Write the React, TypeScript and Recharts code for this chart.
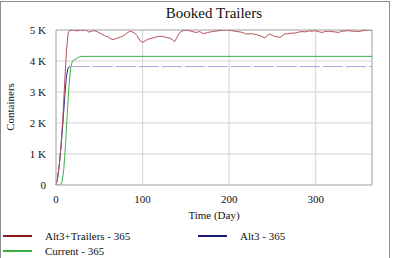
import { CartesianGrid, Line, LineChart, ReferenceLine, XAxis, YAxis } from "recharts";

const dayTicks = [0, 100, 200, 300];
const containerTicks = [0, 1000, 2000, 3000, 4000, 5000];

const alt3TrailersDays = [
  0, 2, 4, 6, 8, 10, 12, 14, 16, 18, 20, 24, 28, 32, 35, 38, 41, 44, 48, 52, 56, 60, 63, 66, 69, 72, 76, 79, 82, 85,
  88, 91, 94, 97, 100, 103, 106, 110, 114, 118, 122, 126, 131, 134, 137, 140, 143, 147, 151, 155, 159, 162, 166, 170,
  175, 181, 186, 191, 197, 203, 209, 214, 220, 226, 232, 237, 241, 244, 247, 250, 253, 256, 259, 262, 264, 268, 272,
  276, 280, 284, 288, 292, 296, 299, 303, 307, 311, 315, 318, 322, 326, 330, 334, 338, 342, 346, 349, 353, 357, 361, 365,
];
const alt3TrailersValues = [
  0, 250, 700, 1350, 2200, 3300, 4300, 4900, 4990, 4980, 5000, 4970, 5000, 4990, 5000, 4930, 4960, 4980, 4940, 4880,
  4820, 4780, 4720, 4690, 4720, 4750, 4790, 4830, 4900, 4960, 4940, 4900, 4800, 4660, 4600, 4650, 4700, 4730, 4760,
  4790, 4800, 4770, 4740, 4700, 4620, 4780, 4920, 4980, 5000, 4970, 4940, 4920, 4950, 4880, 4920, 4950, 4970, 4990,
  5000, 4980, 4950, 4930, 4870, 4880, 4850, 4800, 4750, 4820, 4870, 4830, 4790, 4780, 4760, 4830, 4870, 4880, 4900,
  4900, 4930, 4950, 4940, 4970, 4960, 4980, 4950, 4920, 4950, 4960, 4950, 4940, 4920, 4960, 4970, 4980, 4960, 4960,
  4950, 4970, 4990, 5000, 5000,
];

const alt3Days = [0, 2, 4, 6, 8, 10, 12, 14, 16, 365];
const alt3Values = [0, 250, 700, 1300, 2000, 2800, 3500, 3780, 3820, 3820];

const currentDays = [0, 5, 7, 9, 11, 13, 15, 17, 19, 22, 26, 30, 365];
const currentValues = [0, 0, 100, 500, 1300, 2300, 3200, 3800, 4000, 4050, 4120, 4150, 4150];

const legendRows = [
  [
    { name: "Alt3+Trailers - 365", color: "#8b1a1a" },
    { name: "Alt3 - 365", color: "#1a1a78" },
  ],
  [{ name: "Current - 365", color: "#3cb043" }],
];

const toPoints = (days: number[], values: number[]) => days.map((day, i) => ({ day, value: values[i] }));

const alt3TrailersData = toPoints(alt3TrailersDays, alt3TrailersValues);
const alt3Data = toPoints(alt3Days, alt3Values);
const alt3Rise = alt3Data.slice(0, alt3Data.length - 1);
const alt3Plateau = alt3Data.slice(alt3Data.length - 2);
const currentData = toPoints(currentDays, currentValues);

const font = "Liberation Serif";
const formatK = (v: number) => (v === 0 ? "0" : `${v / 1000} K`);

export default function App() {
  return (
    <div style={{ position: "fixed", left: 0, top: 0, width: 396, height: 258, background: "#fff", overflow: "hidden", fontFamily: font }}>
      <div style={{ position: "absolute", left: 0, top: 1, width: 388, height: 300, border: "1.5px solid #8c8c8c" }} />
      <div style={{ position: "absolute", left: 0, top: 5, width: 428, textAlign: "center", fontSize: 15, color: "#111" }}>
        Booked Trailers
      </div>
      <div
        style={{
          position: "absolute",
          left: 10,
          top: 107,
          transform: "translate(-50%, -50%) rotate(-90deg)",
          fontSize: 11,
          color: "#111",
          whiteSpace: "nowrap",
          fontFamily: font,
        }}
      >
        Containers
      </div>
      <LineChart
        width={396}
        height={258}
        margin={{ top: 30, right: 24, left: 0, bottom: 43 }}
        style={{ position: "absolute", left: 0, top: 0, fontFamily: font }}
      >
        <CartesianGrid stroke="#d2d2d2" />
        <XAxis
          dataKey="day"
          type="number"
          domain={[0, 365]}
          ticks={dayTicks}
          height={30}
          tickLine={false}
          tickMargin={4}
          axisLine={{ stroke: "#b4b4b4" }}
          tick={{ fill: "#111", fontSize: 11, fontFamily: font }}
          label={{ value: "Time (Day)", position: "insideBottom", offset: -4, fill: "#111", fontSize: 11, fontFamily: font }}
        />
        <YAxis
          type="number"
          domain={[0, 5000]}
          ticks={containerTicks}
          width={56}
          tickLine={false}
          tickMargin={4}
          allowDataOverflow
          axisLine={{ stroke: "#b4b4b4" }}
          tickFormatter={formatK}
          tick={{ fill: "#111", fontSize: 11, fontFamily: font }}
        />
        <ReferenceLine x={365} stroke="#b4b4b4" />
        <ReferenceLine y={5000} stroke="#b4b4b4" />
        <Line data={currentData} dataKey="value" type="linear" stroke="#3cb043" strokeWidth={1} dot={false} isAnimationActive={false} />
        <Line data={alt3Plateau} dataKey="value" type="linear" stroke="#a8a8dc" strokeWidth={1} strokeDasharray="20 3" dot={false} isAnimationActive={false} />
        <Line data={alt3Rise} dataKey="value" type="linear" stroke="#2a2a8a" strokeWidth={1} dot={false} isAnimationActive={false} />
        <Line data={alt3TrailersData} dataKey="value" type="linear" stroke="#b5505a" strokeWidth={1} dot={false} isAnimationActive={false} />
      </LineChart>
      {legendRows.map((row, r) =>
        row.map((item, c) => (
          <div key={item.name} style={{ position: "absolute", left: c === 0 ? 3 : 198, top: 229 + r * 15, height: 14, display: "flex", alignItems: "center" }}>
            <div style={{ width: 29, height: 2, background: item.color }} />
            <span style={{ marginLeft: 13, fontSize: 11, color: "#111", whiteSpace: "nowrap", fontFamily: font }}>{item.name}</span>
          </div>
        ))
      )}
    </div>
  );
}
